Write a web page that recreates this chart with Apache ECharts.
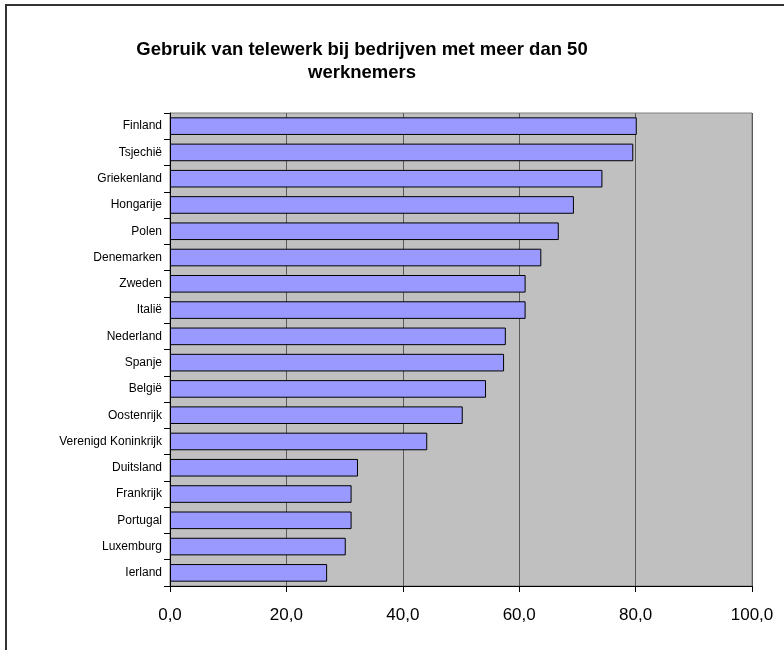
<!DOCTYPE html>
<html>
<head>
<meta charset="utf-8">
<script src="https://cdn.jsdelivr.net/npm/echarts@6/dist/echarts.min.js"></script>
<style>
html,body{margin:0;padding:0;background:#fff;}
#chart{width:784px;height:650px;}
</style>
</head>
<body>
<div id="chart"></div>
<script>
const titleText = "Gebruik van telewerk bij bedrijven met meer dan 50\nwerknemers";
const countries = ["Finland","Tsjechië","Griekenland","Hongarije","Polen","Denemarken","Zweden","Italië","Nederland","Spanje","België","Oostenrijk","Verenigd Koninkrijk","Duitsland","Frankrijk","Portugal","Luxemburg","Ierland"];
const values = [80.2,79.6,74.3,69.4,66.8,63.8,61.1,61.1,57.7,57.4,54.3,50.3,44.2,32.3,31.2,31.2,30.2,27.0];
const xTicks = [0,20,40,60,80,100];

const chart = echarts.init(document.getElementById('chart'), null, {renderer:'canvas'});
chart.setOption({
  animation:false,
  backgroundColor:'#ffffff',
  title:{
    text:titleText,
    left:357, textAlign:'center',
    top:33,
    textStyle:{fontFamily:'Liberation Sans, Arial, sans-serif',fontWeight:'bold',fontSize:18.5,color:'#000',lineHeight:23}
  },
  graphic:[{
    type:'rect',
    shape:{x:6,y:5,width:800,height:700},
    style:{fill:null,stroke:'#333',lineWidth:2},
    silent:true
  }],
  grid:{
    left:170,right:32,top:113,bottom:64,
    show:true,backgroundColor:'#C0C0C0',borderColor:'#808080',borderWidth:1
  },
  xAxis:{
    type:'value',min:0,max:100,interval:20,
    axisLine:{show:true,lineStyle:{color:'#000',width:1}},
    axisTick:{show:true,length:6,lineStyle:{color:'#000'}},
    axisLabel:{
      formatter:v=>xTicks.includes(v)?v.toFixed(1).replace('.',','):'',
      fontFamily:'Liberation Sans, Arial, sans-serif',fontSize:17,color:'#000',margin:21
    },
    splitLine:{show:true,lineStyle:{color:'#5a5a5a',width:1}}
  },
  yAxis:{
    type:'category',data:countries,inverse:true,
    axisLine:{show:true,lineStyle:{color:'#000',width:1}},
    axisTick:{show:true,length:6,lineStyle:{color:'#000'}},
    axisLabel:{fontFamily:'Liberation Sans, Arial, sans-serif',fontSize:12,color:'#000',margin:8},
    splitLine:{show:false}
  },
  series:[{
    type:'bar',
    data:values,
    barCategoryGap:'33%',
    itemStyle:{color:'#9999FF',borderColor:'#000',borderWidth:1}
  }]
});
</script>
</body>
</html>
